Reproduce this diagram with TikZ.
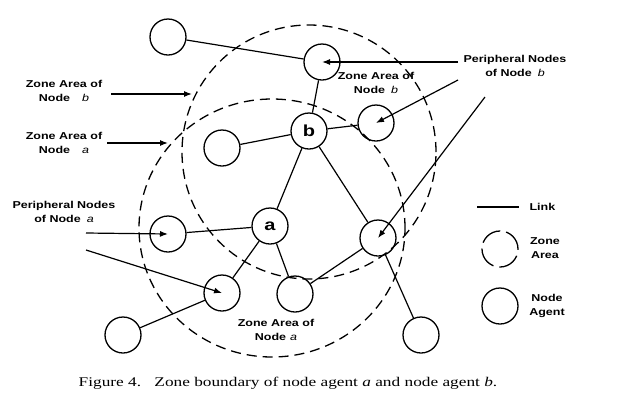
\documentclass[tikz,border=0pt]{standalone}
\usepackage{fontspec}
\usetikzlibrary{arrows.meta}
\setmainfont{Liberation Serif}[FakeStretch=1.3]
\setsansfont{Liberation Sans}[FakeStretch=1.25]
\tikzset{
  agent/.style={circle,draw,line width=1.3pt,minimum size=36pt,inner sep=0pt,font=\sffamily\bfseries\fontsize{16}{16}\selectfont},
  zone/.style={line width=1.3pt,dash pattern=on 10pt off 6pt},
  link/.style={line width=1.2pt},
  note/.style={font=\sffamily\bfseries\fontsize{10}{14}\selectfont,align=center},
  pointer/.style={->,>={Latex[length=8pt,width=6pt]},line width=1.2pt}
}
\begin{document}
\begin{tikzpicture}[x=1pt,y=-1pt]
  \useasboundingbox (0,0) rectangle (622,400);
  % zone areas
  \draw[zone] (309,152) circle [radius=127pt];
  \draw[zone] (272,228) ellipse [x radius=133pt,y radius=129pt];
  % node agents
  \node[agent] (b) at (309,131) {b};
  \node[agent] (a) at (270,226) {a};
  \node[agent] (tl) at (168,37) {};
  \node[agent] (pb1) at (322,62) {};
  \node[agent] (pb2) at (376,123) {};
  \node[agent] (lb) at (222,148) {};
  \node[agent] (pa1) at (168,234) {};
  \node[agent] (pa2) at (222,293) {};
  \node[agent] (bm) at (295,294) {};
  \node[agent] (rn) at (378,238) {};
  \node[agent] (fl) at (123,335) {};
  \node[agent] (br) at (421,335) {};
  % links
  \draw[link] (tl) -- (pb1) -- (b) -- (lb);
  \draw[link] (b) -- (pb2);
  \draw[link] (b) -- (a);
  \draw[link] (b) -- (rn) -- (br);
  \draw[link] (a) -- (pa1);
  \draw[link] (a) -- (pa2) -- (fl);
  \draw[link] (a) -- (bm) -- (rn);
  % notes
  \node[note] (zbnote) at (64,91) {Zone Area of\\Node\hspace{12pt}{\mdseries\itshape b}};
  \node[note] (zanote) at (64,143) {Zone Area of\\Node\hspace{12pt}{\mdseries\itshape a}};
  \node[note] (panote) at (64,212) {Peripheral Nodes\\of Node\hspace{6pt}{\mdseries\itshape a}};
  \node[note] (pbnote) at (515,66) {Peripheral Nodes\\of Node\hspace{6pt}{\mdseries\itshape b}};
  \node[note] (zbin) at (376,83) {Zone Area of\\Node\hspace{6pt}{\mdseries\itshape b}};
  \node[note] (zabot) at (276,330) {Zone Area of\\Node\hspace{4pt}{\mdseries\itshape a}};
  % pointers
  \coordinate (zbs) at (111,94);
  \coordinate (zbt) at (192,94);
  \coordinate (zas) at (107,143);
  \coordinate (zat) at (168,143);
  \coordinate (pas1) at (86,233);
  \coordinate (pas2) at (86,250);
  \coordinate (pbs1) at (458,62);
  \coordinate (pbs2) at (458,80);
  \coordinate (pbs3) at (485,97);
  \draw[pointer] (zbs) -- (zbt);
  \draw[pointer] (zas) -- (zat);
  \draw[pointer] (pas1) -- (pa1.center);
  \draw[pointer] (pas2) -- (pa2.center);
  \draw[pointer] (pbs1) -- (pb1.center);
  \draw[pointer] (pbs2) -- (pb2.center);
  \draw[pointer] (pbs3) -- (rn.center);
  % legend
  \coordinate (lk1) at (477,207);
  \coordinate (lk2) at (519,207);
  \draw[link] (lk1) -- (lk2);
  \node[note,anchor=west] (lktext) at (526,207) {Link};
  \node[agent,dash pattern=on 22pt off 6pt] (lzone) at (500,249) {};
  \node[note] (lzonetext) at (545,248) {Zone\\Area};
  \node[agent] (lagent) at (500,306) {};
  \node[note] (lagenttext) at (547,306) {Node\\Agent};
  % caption
  \node[font=\fontsize{13.3}{15}\selectfont] (cap) at (288,383) {Figure 4.\quad Zone boundary of node agent \textit{a} and node agent \textit{b}.};
\end{tikzpicture}
\end{document}
